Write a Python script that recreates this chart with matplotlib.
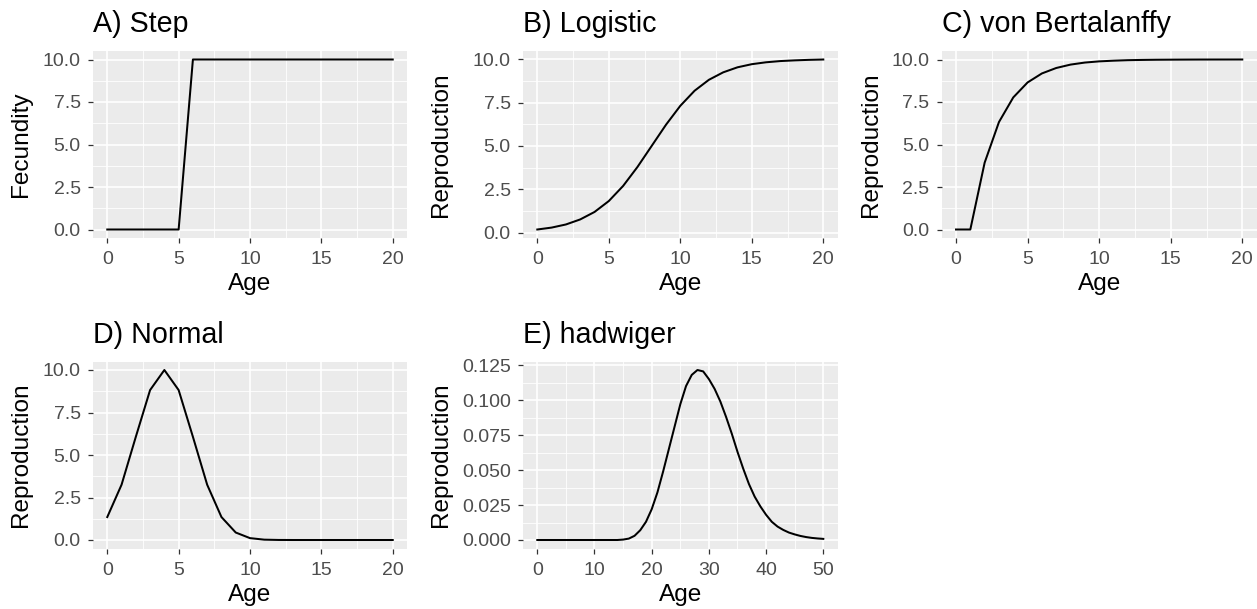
import matplotlib
matplotlib.use("Agg")
import matplotlib.pyplot as plt
from matplotlib.ticker import FixedLocator, FormatStrFormatter

plt.rcParams['font.family'] = ['Liberation Sans', 'DejaVu Sans']

# data
age = list(range(21))
step = [0, 0, 0, 0, 0, 0, 10, 10, 10, 10, 10, 10, 10, 10, 10, 10, 10, 10, 10, 10, 10]
logistic = [0.18, 0.29, 0.47, 0.76, 1.19, 1.82, 2.69, 3.78, 5.0, 6.22, 7.31,
            8.18, 8.81, 9.24, 9.53, 9.71, 9.82, 9.89, 9.93, 9.96, 9.98]
bertalanffy = [0, 0, 3.93, 6.32, 7.77, 8.65, 9.18, 9.50, 9.70, 9.82, 9.89,
               9.93, 9.96, 9.975, 9.985, 9.99, 9.994, 9.997, 9.998, 9.999, 10.0]
normal = [1.35, 3.25, 6.07, 8.82, 10.0, 8.82, 6.07, 3.25, 1.35, 0.44, 0.11,
          0.02, 0.003, 0, 0, 0, 0, 0, 0, 0, 0]
age_h = list(range(51))
hadwiger = [0, 0, 0, 0, 0, 0, 0, 0, 0, 0, 0, 0, 0, 0, 0,
            0.0003, 0.001, 0.003, 0.007, 0.013, 0.022, 0.034, 0.049, 0.065, 0.081,
            0.097, 0.110, 0.118, 0.1215, 0.1205, 0.115, 0.108, 0.099, 0.088, 0.076,
            0.063, 0.051, 0.040, 0.031, 0.024, 0.018, 0.013, 0.0096, 0.0072, 0.0053,
            0.0040, 0.0029, 0.0021, 0.0015, 0.0011, 0.0008]

W, H = 1257, 609
fig = plt.figure(figsize=(W / 100, H / 100), dpi=100)


def box(x0, y0, x1, y1):
    return [x0 / W, 1 - y1 / H, (x1 - x0) / W, (y1 - y0) / H]


panels = [
    ("A) Step", age, step, "Fecundity", box(93, 51, 407, 238), 32.5,
     [0, 5, 10, 15, 20], [2.5, 7.5, 12.5, 17.5], [0, 2.5, 5, 7.5, 10], [1.25, 3.75, 6.25, 8.75], "%.1f"),
    ("B) Logistic", age, logistic, "Reproduction", box(523, 51, 837.6, 238), 452.5,
     [0, 5, 10, 15, 20], [2.5, 7.5, 12.5, 17.5], [0, 2.5, 5, 7.5, 10], [1.25, 3.75, 6.25, 8.75], "%.1f"),
    ("C) von Bertalanffy", age, bertalanffy, "Reproduction", box(941.7, 51, 1256.6, 238), 882,
     [0, 5, 10, 15, 20], [2.5, 7.5, 12.5, 17.5], [0, 2.5, 5, 7.5, 10], [1.25, 3.75, 6.25, 8.75], "%.1f"),
    ("D) Normal", age, normal, "Reproduction", box(93, 361.5, 407, 548.5), 32.5,
     [0, 5, 10, 15, 20], [2.5, 7.5, 12.5, 17.5], [0, 2.5, 5, 7.5, 10], [1.25, 3.75, 6.25, 8.75], "%.1f"),
    ("E) hadwiger", age_h, hadwiger, "Reproduction", box(523, 361.5, 837.6, 548.5), 452.5,
     [0, 10, 20, 30, 40, 50], [5, 15, 25, 35, 45], [0, 0.025, 0.05, 0.075, 0.1, 0.125],
     [0.0125, 0.0375, 0.0625, 0.0875, 0.1125], "%.3f"),
]

for title, x, y, ylab, rect, ylab_x, xmaj, xmin, ymaj, ymin, fmt in panels:
    ax = fig.add_axes(rect)
    ax.set_facecolor("#EBEBEB")
    for s in ax.spines.values():
        s.set_visible(False)
    ax.plot(x, y, color="black", lw=1.45, solid_joinstyle="round", zorder=3)
    ax.margins(x=0.05, y=0.05)
    ax.xaxis.set_major_locator(FixedLocator(xmaj))
    ax.xaxis.set_minor_locator(FixedLocator(xmin))
    ax.yaxis.set_major_locator(FixedLocator(ymaj))
    ax.yaxis.set_minor_locator(FixedLocator(ymin))
    ax.yaxis.set_major_formatter(FormatStrFormatter(fmt))
    ax.grid(which="major", color="white", lw=1.2)
    ax.grid(which="minor", color="white", lw=0.6)
    ax.set_axisbelow(True)
    ax.tick_params(which="major", length=3.4, width=0.9, color="#333333",
                   labelsize=14, labelcolor="#4D4D4D")
    ax.tick_params(axis="x", which="major", pad=6.2)
    ax.tick_params(axis="y", which="major", pad=5.5)
    ax.tick_params(which="minor", length=0)
    ax.set_xlabel("Age", fontsize=17.6, labelpad=3.5)
    ax.set_ylabel(ylab, fontsize=17.6)
    ax.yaxis.set_label_coords(ylab_x / W, rect[1] + rect[3] / 2, transform=fig.transFigure)
    fig.text(rect[0], rect[1] + rect[3] + 18.5 / H, title, fontsize=20.6, ha="left", va="baseline")

fig.savefig("out.png", dpi=100)
